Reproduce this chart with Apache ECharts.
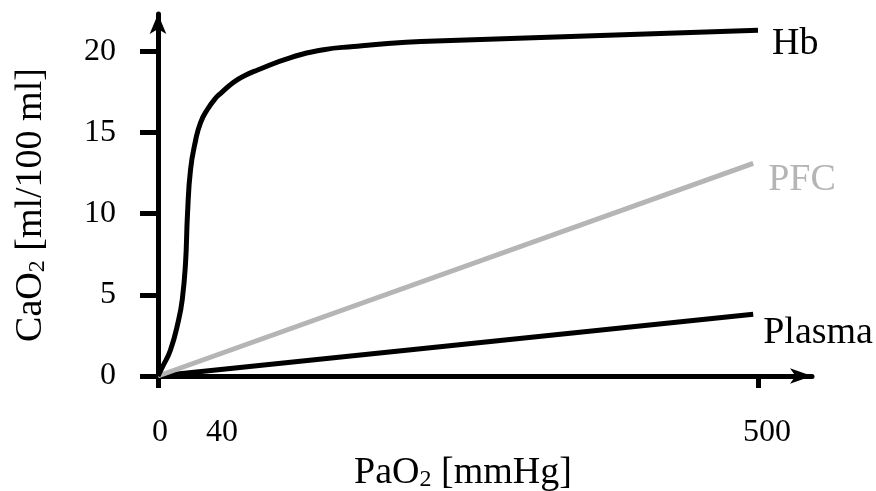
<!DOCTYPE html>
<html>
<head>
<meta charset="utf-8">
<script src="https://cdn.jsdelivr.net/npm/echarts@6/dist/echarts.min.js"></script>
<style>
  html, body { margin: 0; padding: 0; background: #fff; }
  #chart { width: 876px; height: 491px; }
</style>
</head>
<body>
<div id="chart"></div>
<script>
// Oxygen content of blood vs. arterial oxygen partial pressure
const hbPaO2  = [0, 4, 10.4, 17, 20.2, 22.9, 24.6, 27.1, 31.3, 35.4, 41, 49, 52, 63, 72, 83, 110, 138, 163, 194, 219, 500];
const hbCaO2  = [0, 0.6, 1.6, 3.4, 4.7, 6.9, 10.0, 12.7, 14.5, 15.6, 16.4, 17.2, 17.4, 18.1, 18.5, 18.85, 19.6, 20.1, 20.3, 20.5, 20.6, 21.3];
const pfcPaO2 = [0, 496];
const pfcCaO2 = [0, 13.1];
const plasmaPaO2 = [0, 496];
const plasmaCaO2 = [0, 3.8];

const xTicks = [0, 40, 500];
const yTicks = [0, 5, 10, 15, 20];

const SERIF = '"Liberation Serif", "Times New Roman", serif';
const BLACK = '#000000';
const GREY = '#b5b5b5';
const LW = 5;

const pairs = (xs, ys) => xs.map((x, i) => [x, ys[i]]);

const chart = echarts.init(document.getElementById('chart'), null, { renderer: 'canvas' });

const nameRich = {
  m: { fontFamily: SERIF, fontSize: 38, color: BLACK },
  sub: { fontFamily: SERIF, fontSize: 24, color: BLACK, verticalAlign: 'bottom', lineHeight: 16 }
};

chart.setOption({
  animation: false,
  backgroundColor: '#ffffff',
  grid: { left: 158, right: 64, top: 14, bottom: 115, containLabel: false, outerBoundsMode: 'none' },
  xAxis: {
    type: 'value',
    min: 0,
    max: 545,
    name: '{m|PaO}{sub|2}{m| [mmHg]}',
    nameLocation: 'middle',
    nameGap: 60,
    nameTextStyle: { rich: nameRich, padding: [0, 44, 0, 0] },
    axisLine: {
      show: true,
      onZero: false,
      symbol: ['none', 'arrow'],
      symbolSize: [11.5, 22],
      lineStyle: { color: BLACK, width: LW }
    },
    axisTick: { show: true, customValues: [0, 500], length: 12, lineStyle: { color: BLACK, width: LW } },
    axisLabel: {
      customValues: xTicks,
      margin: 41,
      fontFamily: SERIF,
      fontSize: 32,
      color: BLACK,
      formatter: v => v === 40 ? '{s|40}' : (v === 500 ? '{e|500}' : '{z|' + v + '}'),
      rich: {
        z: { fontFamily: SERIF, fontSize: 32, color: BLACK, padding: [0, 0, 0, 4] },
        s: { fontFamily: SERIF, fontSize: 32, color: BLACK, padding: [0, 0, 0, 32] },
        e: { fontFamily: SERIF, fontSize: 32, color: BLACK, padding: [0, 0, 0, 18] }
      }
    },
    splitLine: { show: false }
  },
  yAxis: {
    type: 'value',
    min: 0,
    max: 22.3,
    name: '{m|CaO}{sub|2}{m| [ml/100 ml]}',
    nameLocation: 'middle',
    nameRotate: 90,
    nameGap: 108,
    nameTextStyle: { rich: nameRich, padding: [0, 20, 0, 0] },
    axisLine: {
      show: true,
      onZero: false,
      symbol: ['none', 'arrow'],
      symbolSize: [12.5, 20],
      lineStyle: { color: BLACK, width: LW }
    },
    axisTick: { show: true, customValues: yTicks, length: 18, lineStyle: { color: BLACK, width: LW } },
    axisLabel: {
      customValues: yTicks,
      margin: 42,
      fontFamily: SERIF,
      fontSize: 32,
      color: BLACK
    },
    splitLine: { show: false }
  },
  series: [
    {
      name: 'Plasma',
      type: 'line',
      data: pairs(plasmaPaO2, plasmaCaO2),
      showSymbol: false,
      lineStyle: { color: BLACK, width: LW },
      itemStyle: { color: BLACK },
      endLabel: {
        show: true,
        formatter: '{a}',
        distance: 0,
        offset: [10, 19],
        fontFamily: SERIF,
        fontSize: 38,
        color: BLACK
      },
      z: 2
    },
    {
      name: 'PFC',
      type: 'line',
      data: pairs(pfcPaO2, pfcCaO2),
      showSymbol: false,
      lineStyle: { color: GREY, width: LW },
      itemStyle: { color: GREY },
      endLabel: {
        show: true,
        formatter: '{a}',
        distance: 0,
        offset: [15, 17],
        fontFamily: SERIF,
        fontSize: 38,
        color: GREY
      },
      z: 3
    },
    {
      name: 'Hb',
      type: 'line',
      data: pairs(hbPaO2, hbCaO2),
      showSymbol: false,
      smooth: 0.5,
      lineStyle: { color: BLACK, width: LW },
      itemStyle: { color: BLACK },
      endLabel: {
        show: true,
        formatter: '{a}',
        distance: 0,
        offset: [14, 14],
        fontFamily: SERIF,
        fontSize: 38,
        color: BLACK
      },
      z: 4
    }
  ]
});
</script>
</body>
</html>
